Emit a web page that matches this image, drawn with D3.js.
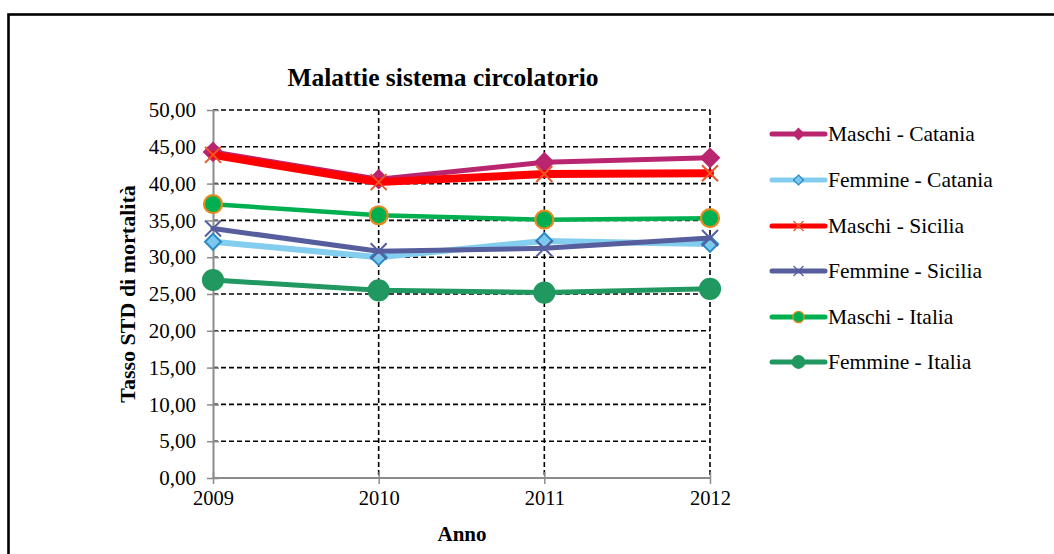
<!DOCTYPE html>
<html>
<head>
<meta charset="utf-8">
<script src="https://cdn.jsdelivr.net/npm/d3@7"></script>
<style>
  html, body { margin: 0; padding: 0; background: #fff; }
  svg { display: block; }
  text { font-family: "Liberation Serif", "Times New Roman", serif; fill: #000; }
</style>
</head>
<body>
<svg id="chart" width="1054" height="554"></svg>
<script>
// Anni e valori del tasso standardizzato di mortalità
const years = ["2009", "2010", "2011", "2012"];
const yTicks = [0, 5, 10, 15, 20, 25, 30, 35, 40, 45, 50];

const maschiCatania  = [44.3, 40.6, 42.9, 43.5];
const femmineCatania = [32.1, 30.0, 32.2, 31.8];
const maschiSicilia  = [43.9, 40.2, 41.3, 41.4];
const femmineSicilia = [33.9, 30.8, 31.2, 32.6];
const maschiItalia   = [37.2, 35.7, 35.1, 35.3];
const femmineItalia  = [26.9, 25.5, 25.2, 25.7];

const seriesNames = [
  "Maschi - Catania", "Femmine - Catania", "Maschi - Sicilia",
  "Femmine - Sicilia", "Maschi - Italia", "Femmine - Italia"
];

// stile di ciascuna serie: colore linea, spessore, marcatore
const styles = [
  { line: "#BA2570", width: 5, marker: "diamond", fill: "#BA2570", stroke: "#BA2570", size: 9 },
  { line: "#83CDEE", width: 6, marker: "diamond", fill: "#7CC7EC", stroke: "#2A8BC9", size: 8 },
  { line: "#FF0000", width: 8, marker: "x", fill: "none", stroke: "#E8572A", size: 8 },
  { line: "#575E9E", width: 5, marker: "x", fill: "none", stroke: "#575E9E", size: 8 },
  { line: "#00B050", width: 4.5, marker: "circle", fill: "#00B050", stroke: "#E48A1E", size: 9 },
  { line: "#21985F", width: 5, marker: "circle", fill: "#21985F", stroke: "#21985F", size: 10 }
];

const data = [maschiCatania, femmineCatania, maschiSicilia, femmineSicilia, maschiItalia, femmineItalia];

const svg = d3.select("#chart");
const fmt = d3.formatLocale({ decimal: ",", thousands: ".", grouping: [3], currency: ["€", ""] }).format(".2f");

const x = d3.scalePoint().domain(years).range([213, 710]);
const y = d3.scaleLinear().domain([0, 50]).range([478, 110]);

// cornice esterna
svg.append("rect")
  .attr("x", 8.5).attr("y", 14.5)
  .attr("width", 1070).attr("height", 560)
  .attr("fill", "none").attr("stroke", "#000").attr("stroke-width", 2.6);

// titolo
svg.append("text")
  .attr("x", 443).attr("y", 86)
  .attr("text-anchor", "middle")
  .style("font-size", "25.5px").style("font-weight", "bold")
  .text("Malattie sistema circolatorio");

// griglia orizzontale tratteggiata
svg.append("g").selectAll("line")
  .data(yTicks.filter(d => d > 0))
  .join("line")
  .attr("x1", x.range()[0]).attr("x2", x.range()[1])
  .attr("y1", d => y(d)).attr("y2", d => y(d))
  .attr("stroke", "#000").attr("stroke-width", 1.6)
  .attr("stroke-dasharray", "5,3");

// griglia verticale tratteggiata
svg.append("g").selectAll("line")
  .data(years.slice(1))
  .join("line")
  .attr("x1", d => x(d)).attr("x2", d => x(d))
  .attr("y1", y(50)).attr("y2", y(0))
  .attr("stroke", "#000").attr("stroke-width", 1.6)
  .attr("stroke-dasharray", "5,3");

// asse Y
const yAxis = d3.axisLeft(y).tickValues(yTicks).tickFormat(fmt).tickSizeInner(6).tickSizeOuter(0).tickPadding(11);
const gy = svg.append("g").attr("transform", `translate(${x.range()[0]},0)`).call(yAxis);
gy.select(".domain").attr("stroke", "#8c8c8c").attr("stroke-width", 2);
gy.selectAll(".tick line").attr("stroke", "#8c8c8c").attr("stroke-width", 1.5).attr("x2", 6).attr("x1", -6);
gy.selectAll(".tick text").style("font-size", "21px").style("font-family", "Liberation Serif, serif");

// asse X
const xAxis = d3.axisBottom(x).tickSizeInner(6).tickSizeOuter(0).tickPadding(6);
const gx = svg.append("g").attr("transform", `translate(0,${y(0)})`).call(xAxis);
gx.select(".domain").attr("stroke", "#8c8c8c").attr("stroke-width", 2).attr("d", `M${x.range()[0]},0H${x.range()[1]}`);
gx.selectAll(".tick line").attr("stroke", "#8c8c8c").attr("stroke-width", 1.5).attr("y1", -6).attr("y2", 6);
gx.selectAll(".tick text").style("font-size", "20.5px").style("font-family", "Liberation Serif, serif");

// titoli degli assi
svg.append("text")
  .attr("x", 462).attr("y", 541)
  .attr("text-anchor", "middle")
  .style("font-size", "21px").style("font-weight", "bold")
  .text("Anno");

svg.append("text")
  .attr("transform", "translate(135,294) rotate(-90)")
  .attr("text-anchor", "middle")
  .style("font-size", "22px").style("font-weight", "bold")
  .text("Tasso STD di mortalità");

// disegno di un marcatore
function drawMarker(g, st, cx, cy, scale) {
  const s = st.size * scale;
  if (st.marker === "diamond") {
    g.append("path")
      .attr("d", `M${cx},${cy - s}L${cx + s},${cy}L${cx},${cy + s}L${cx - s},${cy}Z`)
      .attr("fill", st.fill).attr("stroke", st.stroke).attr("stroke-width", 2 * scale);
  } else if (st.marker === "circle") {
    g.append("circle")
      .attr("cx", cx).attr("cy", cy).attr("r", s)
      .attr("fill", st.fill).attr("stroke", st.stroke).attr("stroke-width", 2.2 * scale);
  } else {
    g.append("path")
      .attr("d", `M${cx - s},${cy - s}L${cx + s},${cy + s}M${cx - s},${cy + s}L${cx + s},${cy - s}`)
      .attr("fill", "none").attr("stroke", st.stroke).attr("stroke-width", 2 * scale);
  }
}

// serie
const line = d3.line().x((d, i) => x(years[i])).y(d => y(d));
const plot = svg.append("g");
data.forEach((vals, k) => {
  const st = styles[k];
  const g = plot.append("g");
  g.append("path")
    .attr("d", line(vals))
    .attr("fill", "none").attr("stroke", st.line)
    .attr("stroke-width", st.width).attr("stroke-linejoin", "round").attr("stroke-linecap", "round");
  vals.forEach((v, i) => drawMarker(g, st, x(years[i]), y(v), 1));
});

// legenda
const legendY = [134, 180, 226, 271, 317, 362];
const legend = svg.append("g");
seriesNames.forEach((name, k) => {
  const st = styles[k];
  const g = legend.append("g");
  const ly = legendY[k];
  g.append("line")
    .attr("x1", 772).attr("x2", 825).attr("y1", ly).attr("y2", ly)
    .attr("stroke", st.line).attr("stroke-width", 5).attr("stroke-linecap", "round");
  drawMarker(g, st, 798.5, ly, 0.62);
  g.append("text")
    .attr("x", 828).attr("y", ly + 7)
    .style("font-size", "21.5px")
    .text(name);
});
</script>
</body>
</html>
